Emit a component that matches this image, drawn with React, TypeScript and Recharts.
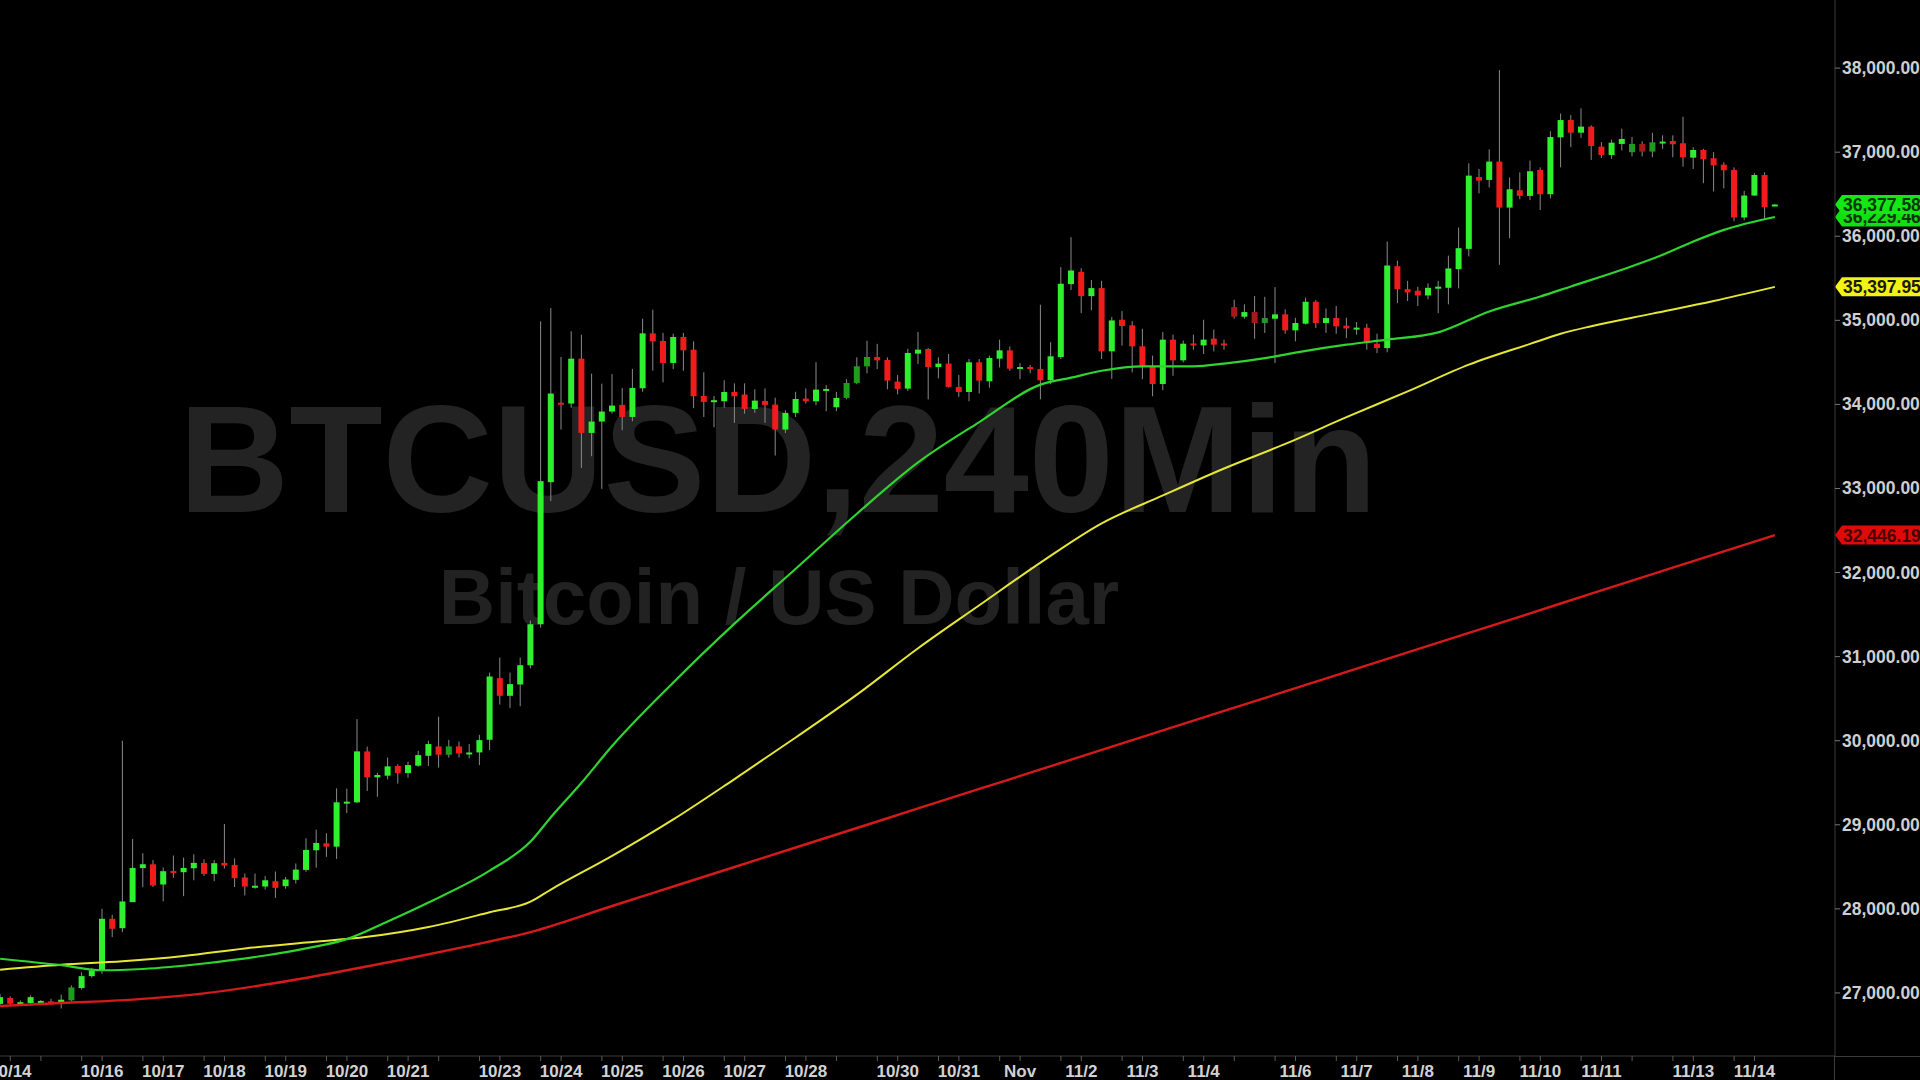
import React from "react";
import {
  ComposedChart,
  Bar,
  Line,
  XAxis,
  YAxis,
  ReferenceLine,
} from "recharts";

// 4-hour candles, 10/13 20:00 .. 11/14 08:00  [open, high, low, close]
const ohlc: number[][] = [
  [26870, 26990, 26840, 26950], [26940, 26960, 26850, 26872], [26880, 26910, 26860, 26890], [26880, 26970, 26860, 26950],
  [26900, 26915, 26890, 26905], [26900, 26930, 26860, 26875], [26880, 26980, 26815, 26920], [26912, 27090, 26900, 27066],
  [27058, 27245, 27040, 27200], [27200, 27300, 27180, 27268], [27268, 28000, 27228, 27882], [27882, 27930, 27664, 27763],
  [27770, 30000, 27723, 28088], [28080, 28832, 28080, 28487], [28485, 28662, 28257, 28531], [28530, 28580, 28260, 28278],
  [28290, 28490, 28090, 28448], [28450, 28634, 28370, 28445], [28436, 28610, 28151, 28487], [28483, 28650, 28340, 28547],
  [28547, 28590, 28390, 28416], [28416, 28580, 28330, 28543], [28547, 29010, 28480, 28515], [28523, 28600, 28260, 28365],
  [28373, 28420, 28159, 28266], [28270, 28420, 28240, 28275], [28266, 28390, 28230, 28340], [28329, 28444, 28131, 28250],
  [28270, 28380, 28240, 28349], [28345, 28540, 28300, 28467], [28463, 28840, 28440, 28701], [28697, 28942, 28490, 28784],
  [28780, 28900, 28618, 28740], [28740, 29433, 28594, 29267], [29256, 29430, 29140, 29275], [29267, 30257, 29260, 29873],
  [29873, 29930, 29402, 29564], [29564, 29620, 29334, 29592], [29584, 29800, 29540, 29695], [29699, 29720, 29490, 29615],
  [29615, 29750, 29560, 29710], [29703, 29880, 29690, 29829], [29821, 30000, 29700, 29960], [29932, 30285, 29680, 29833],
  [29833, 30010, 29800, 29932], [29932, 29990, 29800, 29849], [29845, 29960, 29790, 29860], [29861, 30070, 29710, 30007],
  [30011, 30810, 29889, 30764], [30744, 30989, 30430, 30534], [30534, 30810, 30390, 30673], [30669, 30989, 30410, 30898],
  [30898, 31430, 30860, 31385], [31385, 34988, 31345, 33087], [33075, 35146, 32850, 34129], [34020, 34564, 33701, 34010],
  [34010, 34869, 33960, 34544], [34544, 34829, 33245, 33661], [33661, 34366, 33384, 33796], [33796, 34247, 32996, 33915],
  [33915, 34360, 33890, 33986], [33994, 34196, 33693, 33851], [33851, 34422, 33800, 34196], [34192, 35019, 34150, 34845],
  [34845, 35126, 34402, 34750], [34754, 34850, 34263, 34493], [34493, 34840, 34420, 34802], [34802, 34850, 34400, 34643],
  [34651, 34750, 33958, 34097], [34101, 34382, 33850, 34030], [34045, 34100, 33729, 34050], [34037, 34287, 33960, 34148],
  [34148, 34250, 33780, 34097], [34117, 34250, 33890, 33946], [33946, 34180, 33900, 34045], [34041, 34190, 33780, 33994],
  [33998, 34080, 33392, 33701], [33701, 33930, 33660, 33899], [33899, 34150, 33850, 34065], [34069, 34190, 34010, 34037],
  [34037, 34501, 33990, 34176], [34168, 34230, 33919, 34184], [33966, 34150, 33920, 34077], [34077, 34300, 34060, 34255],
  [34255, 34560, 34240, 34453], [34453, 34758, 34370, 34564], [34564, 34720, 34420, 34524], [34528, 34560, 34180, 34283],
  [34271, 34350, 34120, 34184], [34188, 34660, 34160, 34612], [34604, 34861, 34480, 34651], [34659, 34670, 34060, 34445],
  [34445, 34560, 34310, 34485], [34485, 34600, 34200, 34208], [34208, 34350, 34090, 34148], [34148, 34540, 34037, 34501],
  [34501, 34540, 34130, 34283], [34275, 34580, 34200, 34552], [34544, 34770, 34440, 34643], [34643, 34690, 34400, 34425],
  [34422, 34490, 34300, 34445], [34445, 34470, 34370, 34422], [34422, 35186, 34060, 34287], [34287, 34740, 34240, 34572],
  [34564, 35633, 34540, 35435], [35431, 35989, 35360, 35593], [35577, 35620, 35086, 35288], [35288, 35480, 35120, 35383],
  [35383, 35470, 34540, 34631], [34631, 35040, 34303, 34999], [35007, 35110, 34700, 34932], [34940, 34990, 34380, 34691],
  [34691, 34900, 34300, 34453], [34453, 34580, 34097, 34243], [34243, 34860, 34170, 34770], [34770, 34830, 34340, 34524],
  [34524, 34760, 34500, 34722], [34725, 34830, 34650, 34712], [34702, 35007, 34600, 34770], [34782, 34890, 34630, 34710],
  [34725, 34770, 34650, 34718], [35158, 35245, 35020, 35043], [35043, 35190, 35020, 35098], [35098, 35290, 34780, 34968],
  [34968, 35280, 34850, 35027], [35019, 35395, 34493, 35071], [35071, 35130, 34840, 34881], [34881, 35030, 34750, 34968],
  [34960, 35270, 34950, 35221], [35221, 35240, 34910, 34968], [34968, 35140, 34850, 35027], [35027, 35170, 34840, 34928],
  [34936, 35030, 34790, 34904], [34897, 34980, 34830, 34913], [34912, 34960, 34650, 34738], [34722, 34840, 34610, 34670],
  [34670, 35937, 34620, 35652], [35644, 35710, 35205, 35371], [35371, 35470, 35230, 35332], [35352, 35400, 35170, 35296],
  [35296, 35440, 35250, 35387], [35395, 35470, 35086, 35400], [35387, 35770, 35190, 35617], [35609, 36104, 35380, 35858],
  [35850, 36868, 35760, 36721], [36705, 36800, 36510, 36662], [36670, 37034, 36580, 36888], [36888, 37976, 35660, 36341],
  [36341, 36700, 35977, 36559], [36547, 36760, 36440, 36480], [36480, 36900, 36430, 36773], [36789, 36820, 36313, 36500],
  [36500, 37250, 36450, 37180], [37176, 37460, 36820, 37382], [37383, 37440, 37060, 37232], [37232, 37521, 37170, 37304],
  [37304, 37320, 36908, 37074], [37066, 37120, 36930, 36967], [36967, 37150, 36920, 37113], [37098, 37280, 37020, 37157],
  [37000, 37180, 36950, 37098], [37098, 37130, 36950, 37007], [37007, 37230, 36940, 37117], [37114, 37200, 37040, 37126],
  [37133, 37200, 36940, 37094], [37106, 37422, 36828, 36939], [36935, 37060, 36800, 37026], [37026, 37040, 36631, 36916],
  [36928, 37000, 36532, 36844], [36852, 36880, 36570, 36785], [36789, 36820, 36180, 36223], [36223, 36540, 36190, 36484],
  [36484, 36750, 36480, 36729], [36729, 36760, 36210, 36346], [36360, 36385, 36355, 36377.58],
];

// candles drawn in the darker shade
const dimCandles = [7, 44, 83, 84, 85, 121, 123, 124, 160, 161, 162];

// moving averages read at sample bars: [bar index, value]
const maGreen: [number, number][] = [
  [0, 27407], [6, 27330], [10, 27270], [14, 27285], [20, 27350], [26, 27445], [30, 27530], [34, 27640],
  [38, 27850], [42, 28076], [48, 28454], [52, 28800], [54, 29090], [57, 29500], [60, 29936], [66, 30692],
  [72, 31392], [78, 32045], [84, 32700], [90, 33310], [96, 33790], [102, 34235], [105, 34318], [108, 34400],
  [112, 34453], [117, 34453], [120, 34485], [124, 34550], [127, 34616], [132, 34710], [136, 34770], [141, 34857],
  [146, 35106], [151, 35284], [154, 35403], [159, 35601], [163, 35779], [166, 35937], [169, 36076], [174, 36229.46],
];
const maYellow: [number, number][] = [
  [0, 27276], [6, 27335], [12, 27377], [18, 27440], [24, 27530], [30, 27600], [36, 27668], [42, 27785],
  [48, 27960], [52, 28085], [54, 28230], [60, 28630], [66, 29064], [72, 29544], [78, 30038], [84, 30548],
  [90, 31100], [96, 31611], [102, 32118], [108, 32585], [114, 32917], [120, 33238], [126, 33530], [132, 33848],
  [138, 34155], [144, 34473], [150, 34720], [153, 34840], [156, 34930], [162, 35080], [168, 35230], [174, 35397.95],
];
const maRed: [number, number][] = [
  [0, 26845], [6, 26880], [13, 26920], [20, 26995], [27, 27118], [34, 27270], [40, 27410], [46, 27560],
  [52, 27724], [60, 28034], [66, 28266], [72, 28498], [78, 28730], [84, 28962], [90, 29194], [96, 29426],
  [102, 29658], [108, 29890], [114, 30122], [120, 30354], [126, 30586], [132, 30818], [138, 31050], [144, 31282],
  [150, 31514], [156, 31750], [162, 31982], [168, 32214], [174, 32446.19],
];

// day labels on the time axis: [bar index, label]
const dayLabels: [number, string][] = [
  [1, "10/14"], [10, "10/16"], [16, "10/17"], [22, "10/18"], [28, "10/19"], [34, "10/20"], [40, "10/21"],
  [49, "10/23"], [55, "10/24"], [61, "10/25"], [67, "10/26"], [73, "10/27"], [79, "10/28"], [88, "10/30"],
  [94, "10/31"], [100, "Nov"], [106, "11/2"], [112, "11/3"], [118, "11/4"], [127, "11/6"], [133, "11/7"],
  [139, "11/8"], [145, "11/9"], [151, "11/10"], [157, "11/11"], [166, "11/13"], [172, "11/14"],
];
const extraTicks = [4, 43, 82, 121, 160];

const priceTicks = [27000, 28000, 29000, 30000, 31000, 32000, 33000, 34000, 35000, 36000, 37000, 38000];

const lastTags = [
  { value: 36229.46, fill: "#10e010", text: "#063806" },
  { value: 36377.58, fill: "#14e814", text: "#063806" },
  { value: 35397.95, fill: "#f2f215", text: "#1a1a00" },
  { value: 32446.19, fill: "#e00a0a", text: "#4a0000" },
];

const FONT = '"Liberation Sans", Arial, sans-serif';

const labelMap: Record<number, string> = {};
dayLabels.forEach(([i, t]) => (labelMap[i] = t));
const xTicks = Array.from(
  new Set([...dayLabels.map(([i]) => i), ...dayLabels.map(([i]) => i - 2).filter((i) => i >= 0), ...extraTicks])
).sort((a, b) => a - b);

const rows = ohlc.map(([o, h, l, c], i) => ({
  i,
  o,
  h,
  l,
  c,
  range: [l, h],
  dim: dimCandles.includes(i),
  g: null as number | null,
  y: null as number | null,
  r: null as number | null,
}));
maGreen.forEach(([i, v]) => (rows[i].g = v));
maYellow.forEach(([i, v]) => (rows[i].y = v));
maRed.forEach(([i, v]) => (rows[i].r = v));

const fmt = (v: number) =>
  v.toLocaleString("en-US", { minimumFractionDigits: 2, maximumFractionDigits: 2 });

function Candle(props: any) {
  const { x, y, width, height, payload } = props;
  if (!payload || x == null) return null;
  const { o, h, l, c, dim } = payload;
  const top = Math.min(y, y + height);
  const span = Math.abs(height);
  const k = h > l ? span / (h - l) : 0;
  const py = (v: number) => top + (h - v) * k;
  const cx = x + width / 2;
  const up = c >= o;
  const color = up ? (dim ? "#1e9c1e" : "#2ef02e") : dim ? "#a81818" : "#f01c1c";
  const bTop = py(Math.max(o, c));
  const bH = Math.max(py(Math.min(o, c)) - bTop, 2);
  return (
    <g>
      <line x1={cx} x2={cx} y1={py(h)} y2={py(l)} stroke="#8a8a8a" strokeWidth={1} />
      <rect x={x} y={bTop} width={width} height={bH} fill={color} />
    </g>
  );
}

function TimeTick(props: any) {
  const { x, y, payload } = props;
  const t = labelMap[payload.value];
  if (!t) return null;
  return (
    <text x={x} y={y + 14} textAnchor="middle" fill="#d2d2d2" fontFamily={FONT} fontWeight="bold" fontSize={17}>
      {t}
    </text>
  );
}

function PriceTick(props: any) {
  const { x, y, payload } = props;
  return (
    <text x={x} y={y + 6} textAnchor="start" fill="#cfcfcf" fontFamily={FONT} fontWeight="bold" fontSize={17.5}>
      {fmt(payload.value)}
    </text>
  );
}

function tagLabel(value: number, fill: string, text: string) {
  return (p: any) => {
    const vb = p.viewBox;
    const ax = vb.x + vb.width;
    const cy = vb.y;
    const pts = `${ax},${cy} ${ax + 7},${cy - 9.5} ${ax + 90},${cy - 9.5} ${ax + 90},${cy + 9.5} ${ax + 7},${cy + 9.5}`;
    return (
      <g>
        <polygon points={pts} fill={fill} />
        <text x={ax + 8} y={cy + 6.5} fill={text} fontFamily={FONT} fontWeight="bold" fontSize={17.5}>
          {fmt(value)}
        </text>
      </g>
    );
  };
}

export default function App() {
  return (
    <div style={{ position: "relative", width: 1920, height: 1080, overflow: "hidden", background: "#000" }}>
      <style>{"body{margin:0;background:#000}"}</style>
      <svg width={1920} height={1080} style={{ position: "absolute", left: 0, top: 0 }}>
        <text x={778} y={512} textAnchor="middle" fill="#232323" fontFamily={FONT} fontWeight="bold" fontSize={153}>
          BTCUSD,240Min
        </text>
        <text x={779} y={624} textAnchor="middle" fill="#222222" fontFamily={FONT} fontWeight="bold" fontSize={78}>
          Bitcoin / US Dollar
        </text>
      </svg>
      <div style={{ position: "absolute", left: -5, top: 0 }}>
        <ComposedChart width={1925} height={1080} data={rows} margin={{ top: 0, right: 0, bottom: 0, left: 0 }}>
          <XAxis
            dataKey="i"
            type="category"
            ticks={xTicks}
            interval={0}
            height={24}
            padding={{ left: 0, right: 55 }}
            axisLine={{ stroke: "#3c3c3c" }}
            tickLine={{ stroke: "#5a5a5a" }}
            tickSize={5}
            tickMargin={2}
            tick={<TimeTick />}
          />
          <YAxis
            orientation="right"
            width={85}
            type="number"
            domain={[26250, 38810]}
            allowDataOverflow
            ticks={priceTicks}
            interval={0}
            axisLine={{ stroke: "#3a3a3a" }}
            tickLine={{ stroke: "#777" }}
            tickSize={5}
            tickMargin={2}
            tick={<PriceTick />}
          />
          <Line type="monotone" dataKey="r" stroke="#d41a1a" strokeWidth={2.4} dot={false} activeDot={false} connectNulls isAnimationActive={false} />
          <Line type="monotone" dataKey="y" stroke="#e6e636" strokeWidth={2} dot={false} activeDot={false} connectNulls isAnimationActive={false} />
          <Line type="monotone" dataKey="g" stroke="#2fd42f" strokeWidth={2.2} dot={false} activeDot={false} connectNulls isAnimationActive={false} />
          <Bar dataKey="range" barSize={6} shape={(p: any) => <Candle {...p} />} activeBar={false} isAnimationActive={false} />
          {lastTags.map((t) => (
            <ReferenceLine key={t.value} y={t.value} stroke="none" label={tagLabel(t.value, t.fill, t.text)} />
          ))}
        </ComposedChart>
      </div>
      <div style={{ position: "absolute", left: 1835, top: 1056, width: 85, height: 1, background: "#3c3c3c" }} />
      <div style={{ position: "absolute", left: 1834, top: 1056, width: 1, height: 24, background: "#3c3c3c" }} />
    </div>
  );
}
